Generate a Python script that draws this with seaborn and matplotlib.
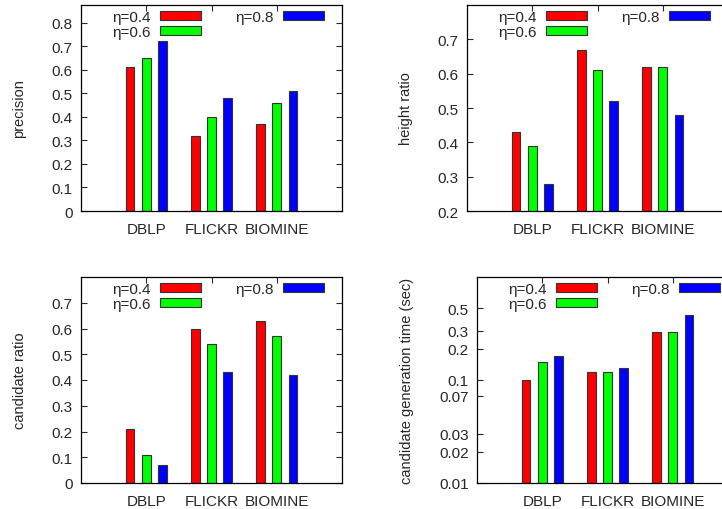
import numpy as np
import pandas as pd
import matplotlib
matplotlib.use('Agg')
import matplotlib.pyplot as plt
import seaborn as sns
from matplotlib.patches import Patch

# dados
datasets = ['DBLP', 'FLICKR', 'BIOMINE']
etas = ['η=0.4', 'η=0.6', 'η=0.8']
cores = ['#ff0000', '#00ff00', '#0000ff']

precision = [[0.61, 0.65, 0.72], [0.32, 0.40, 0.48], [0.37, 0.46, 0.51]]
height_ratio = [[0.43, 0.39, 0.28], [0.67, 0.61, 0.52], [0.62, 0.62, 0.48]]
candidate_ratio = [[0.21, 0.11, 0.07], [0.60, 0.54, 0.43], [0.63, 0.57, 0.42]]
gen_time = [[0.10, 0.15, 0.17], [0.12, 0.12, 0.13], [0.29, 0.29, 0.43]]

sns.set_style('ticks')
plt.rcParams['font.family'] = ['Liberation Sans', 'DejaVu Sans']
plt.rcParams['font.size'] = 11


def para_df(valores):
    linhas = []
    for d, linha in zip(datasets, valores):
        for e, v in zip(etas, linha):
            linhas.append({'dataset': d, 'eta': e, 'valor': v})
    return pd.DataFrame(linhas)


fig = plt.figure(figsize=(7.22, 5.10), dpi=100)
W, H = 722, 510

paineis = [
    # (valores, ylabel, left px, top px, bottom px, ylim, ticks, log)
    (precision, 'precision', 81, 6, 212, (0, 0.875), np.round(np.arange(0, 0.81, 0.1), 1), False),
    (height_ratio, 'height ratio', 467, 6, 212, (0.2, 0.8), np.round(np.arange(0.2, 0.71, 0.1), 1), False),
    (candidate_ratio, 'candidate ratio', 81, 278, 484, (0, 0.8), np.round(np.arange(0, 0.71, 0.1), 1), False),
    (gen_time, 'candidate generation time (sec)', 477, 278, 484, (0.01, 1.0),
     [0.01, 0.02, 0.03, 0.07, 0.1, 0.2, 0.3, 0.5], True),
]

for valores, ylabel, x0, top, bot, ylim, ticks, log in paineis:
    ax = fig.add_axes([x0 / W, 1 - bot / H, 261 / W, (bot - top) / H])
    if log:
        ax.set_yscale('log')
    df = para_df(valores)
    sns.barplot(data=df, x='dataset', y='valor', hue='eta', palette=cores,
                width=0.75, gap=0.47, edgecolor='#333333', linewidth=0.8,
                saturation=1, ax=ax, legend=False)
    ax.set_xlim(-1, 3)
    ax.set_ylim(*ylim)
    ax.set_yticks(ticks)
    if log:
        ax.set_yticklabels([('%g' % t) for t in ticks])
        ax.minorticks_off()
    else:
        ax.set_yticklabels(['0' if t == 0 else '%.1f' % t for t in ticks])
    ax.set_xlabel('')
    ax.set_ylabel(ylabel, fontsize=10.5, labelpad=18)
    ax.tick_params(direction='in', top=True, right=True, length=4, width=0.8, pad=6)
    ax.tick_params(axis='x', pad=8)
    for s in ax.spines.values():
        s.set_color('black')
        s.set_linewidth(0.9)

    handles = [Patch(facecolor=c, edgecolor='#333333', linewidth=0.8) for c in cores]
    ax.legend(handles, etas, ncol=2, markerfirst=False, frameon=False,
              loc='upper right', bbox_to_anchor=(243 / 261, 0.975),
              borderaxespad=0, borderpad=0, handlelength=2.7, handleheight=0.55,
              handletextpad=0.6, columnspacing=2.2, labelspacing=0.05, fontsize=11)

fig.savefig('out.png', dpi=100)
